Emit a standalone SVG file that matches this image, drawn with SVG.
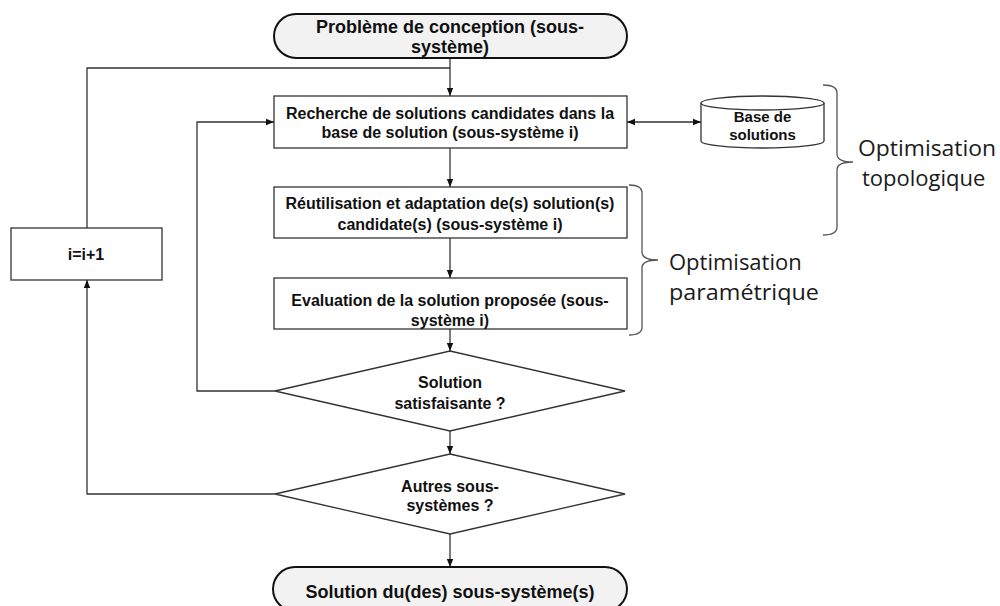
<svg xmlns="http://www.w3.org/2000/svg" width="1000" height="606" viewBox="0 0 1000 606">
<style>
.box{fill:#fff;stroke:#333;stroke-width:1.3}
.term{fill:#f2f2f2;stroke:#111;stroke-width:2}
.t{font-family:"Liberation Sans",Arial,sans-serif;font-weight:bold;font-size:16px;fill:#111;text-anchor:middle}
.tt{font-family:"Liberation Sans",Arial,sans-serif;font-weight:bold;font-size:18px;fill:#111;text-anchor:middle}
.ts{font-family:"Liberation Sans",Arial,sans-serif;font-weight:bold;font-size:15px;fill:#111;text-anchor:middle}
.lab{font-family:"Open Sans","Noto Sans",sans-serif;font-size:22px;fill:#1a1a1a}
.c{fill:none;stroke:#333;stroke-width:1.3}
.br{fill:none;stroke:#555;stroke-width:1.3}
</style>
<defs>
<marker id="ah" viewBox="0 0 10 10" refX="10" refY="5" markerWidth="8" markerHeight="8" markerUnits="userSpaceOnUse" orient="auto-start-reverse">
<path d="M0,1 L10,5 L0,9 Z" fill="#111"/>
</marker>
</defs>
<g id="connectors">
<path class="c" d="M450,58 V96" marker-end="url(#ah)"/>
<path class="c" d="M87,228 V68 H450"/>
<path class="c" d="M450,148 V187" marker-end="url(#ah)"/>
<path class="c" d="M450,238 V278" marker-end="url(#ah)"/>
<path class="c" d="M450,329 V351" marker-end="url(#ah)"/>
<path class="c" d="M450,431 V454" marker-end="url(#ah)"/>
<path class="c" d="M450,534 V567" marker-end="url(#ah)"/>
<path class="c" d="M275,391 H197 V122 H274" marker-end="url(#ah)"/>
<path class="c" d="M275,494 H87 V280" marker-end="url(#ah)"/>
<path class="c" d="M627,122 H701" marker-start="url(#ah)" marker-end="url(#ah)"/>
</g>
<g id="start">
<rect class="term" x="274" y="14" width="353" height="44" rx="22"/>
<text class="tt" x="450" y="33">Problème de conception (sous-</text>
<text class="tt" x="450" y="53">système)</text>
</g>
<g id="recherche">
<rect class="box" x="274" y="96" width="353" height="52"/>
<text class="t" x="450" y="119">Recherche de solutions candidates dans la</text>
<text class="t" x="450" y="138">base de solution (sous-système i)</text>
</g>
<g id="base">
<path class="box" d="M701,103 V141 A61.5,7 0 0 0 824,141 V103"/>
<ellipse class="box" cx="762.5" cy="103" rx="61.5" ry="7"/>
<text class="ts" x="762.5" y="122">Base de</text>
<text class="ts" x="762.5" y="140">solutions</text>
</g>
<g id="reutilisation">
<rect class="box" x="274" y="187" width="353" height="51"/>
<text class="t" x="450" y="209">Réutilisation et adaptation de(s) solution(s)</text>
<text class="t" x="450" y="230">candidate(s) (sous-système i)</text>
</g>
<g id="evaluation">
<rect class="box" x="274" y="278" width="353" height="51"/>
<text class="t" x="450" y="306">Evaluation de la solution proposée (sous-</text>
<text class="t" x="450" y="326">système i)</text>
</g>
<g id="satisfaisante">
<polygon class="box" points="450,351 625,391 450,431 275,391"/>
<text class="t" x="450" y="388">Solution</text>
<text class="t" x="450" y="409">satisfaisante ?</text>
</g>
<g id="autres">
<polygon class="box" points="450,454 625,494 450,534 275,494"/>
<text class="t" x="450" y="492">Autres sous-</text>
<text class="t" x="450" y="511">systèmes ?</text>
</g>
<g id="fin">
<rect class="term" x="273" y="567" width="354" height="44" rx="22"/>
<text class="tt" x="450" y="598">Solution du(des) sous-système(s)</text>
</g>
<g id="increment">
<rect class="box" x="11" y="228" width="151" height="52"/>
<text class="t" x="86" y="260">i=i+1</text>
</g>
<g id="topologique">
<path class="br" d="M823,85 Q837,85 837,93 V154 Q837,162 853,162 Q837,162 837,170 V227 Q837,235 823,235"/>
<text class="lab" x="858" y="156" textLength="138" lengthAdjust="spacingAndGlyphs">Optimisation</text>
<text class="lab" x="862" y="186">topologique</text>
</g>
<g id="parametrique">
<path class="br" d="M629,185 Q642,185 642,193 V252 Q642,260 658,260 Q642,260 642,268 V327 Q642,335 629,335"/>
<text class="lab" x="669" y="270">Optimisation</text>
<text class="lab" x="669" y="300" textLength="150" lengthAdjust="spacingAndGlyphs">paramétrique</text>
</g>
</svg>
